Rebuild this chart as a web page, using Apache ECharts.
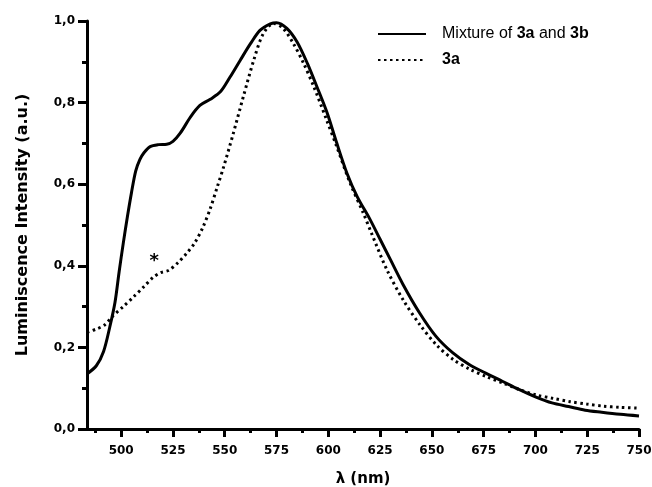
<!DOCTYPE html>
<html>
<head>
<meta charset="utf-8">
<script src="https://cdn.jsdelivr.net/npm/echarts@6/dist/echarts.min.js"></script>
<style>
  html, body { margin: 0; padding: 0; background: #fff; }
  #chart { width: 652px; height: 487px; }
</style>
</head>
<body>
<div id="chart"></div>
<script>
// wavelength (nm) / intensity pairs
const mixtureWl = [483.5, 488, 491.5, 494.5, 497, 499, 501, 503, 505, 507, 509, 511, 514, 518, 522, 525, 528.5, 533.5, 538, 543, 548, 552.5, 557.5, 562.5, 567, 572, 575, 580, 585, 590, 594.5, 599.5, 604, 609, 614, 620, 625, 630, 636, 644, 652, 660, 668, 676, 684, 692, 700, 708, 716, 724, 732, 741, 750];
const mixtureVal = [0.135, 0.155, 0.19, 0.25, 0.31, 0.385, 0.455, 0.52, 0.58, 0.632, 0.66, 0.677, 0.692, 0.697, 0.698, 0.705, 0.725, 0.765, 0.793, 0.808, 0.827, 0.862, 0.904, 0.945, 0.977, 0.993, 0.996, 0.982, 0.948, 0.895, 0.839, 0.774, 0.702, 0.627, 0.569, 0.515, 0.465, 0.415, 0.355, 0.285, 0.227, 0.187, 0.158, 0.137, 0.117, 0.097, 0.079, 0.064, 0.055, 0.046, 0.041, 0.036, 0.032];

const pure3aWl = [483.5, 488, 492, 496, 501, 506, 511, 515.5, 519, 523, 527.5, 531.5, 535.5, 539.5, 543, 546.5, 549.5, 554, 559, 564, 568.5, 573.5, 578, 583, 588, 593, 599, 604, 610.5, 617, 621, 628.3, 636.3, 644.3, 652.4, 660.4, 668.5, 676.5, 684.6, 692.6, 700.7, 708.7, 716.7, 724.8, 732.8, 741, 750];
const pure3aVal = [0.237, 0.245, 0.255, 0.277, 0.3, 0.324, 0.349, 0.372, 0.383, 0.389, 0.408, 0.43, 0.456, 0.495, 0.54, 0.595, 0.643, 0.722, 0.815, 0.904, 0.968, 0.994, 0.983, 0.946, 0.897, 0.839, 0.76, 0.693, 0.603, 0.528, 0.478, 0.39, 0.315, 0.255, 0.205, 0.17, 0.146, 0.128, 0.112, 0.096, 0.083, 0.075, 0.067, 0.061, 0.056, 0.053, 0.051];

const xMajorTicks = [500, 525, 550, 575, 600, 625, 650, 675, 700, 725, 750];
const xMinorTicks = [487.5, 512.5, 537.5, 562.5, 587.5, 612.5, 637.5, 662.5, 687.5, 712.5, 737.5];
const asteriskAt = [516, 0.41];

const seriesNames = ["Mixture of 3a and 3b", "3a"];

const chart = echarts.init(document.getElementById("chart"));

const tickFont = "DejaVu Sans";
const legendFont = "Liberation Sans";

const pairs = (xs, ys) => xs.map((x, i) => [x, ys[i]]);

const axisBlack = { color: "#000", width: 3 };

chart.setOption({
  animation: false,
  backgroundColor: "#fff",
  grid: { left: 87, right: 13, top: 21, bottom: 58, outerBoundsMode: "none" },
  legend: {
    orient: "vertical",
    left: 372,
    top: 21,
    itemWidth: 48,
    itemHeight: 14,
    itemGap: 10,
    data: seriesNames,
    itemStyle: { opacity: 0 },
    formatter: (name) =>
      name === seriesNames[0] ? "Mixture of {b|3a} and {b|3b}" : "{b|3a}",
    textStyle: {
      fontFamily: legendFont,
      fontSize: 16,
      color: "#000",
      padding: [0, 0, 0, 11],
      rich: {
        b: { fontFamily: legendFont, fontSize: 16, fontWeight: "bold", color: "#000" },
      },
    },
  },
  xAxis: [
    {
      type: "value",
      min: 483.5,
      max: 750,
      name: "λ (nm)",
      nameLocation: "middle",
      nameGap: 43,
      nameTextStyle: { fontFamily: tickFont, fontWeight: "bold", fontSize: 15, color: "#000" },
      splitLine: { show: false },
      axisLine: { lineStyle: axisBlack },
      axisTick: { customValues: xMajorTicks, length: 8, lineStyle: axisBlack },
      axisLabel: {
        customValues: xMajorTicks,
        margin: 16,
        fontFamily: tickFont,
        fontWeight: "bold",
        fontSize: 12,
        color: "#000",
      },
    },
    {
      // minor ticks only
      type: "value",
      min: 483.5,
      max: 750,
      position: "bottom",
      splitLine: { show: false },
      axisLine: { show: false },
      axisTick: { customValues: xMinorTicks, length: 4, lineStyle: axisBlack },
      axisLabel: { show: false },
    },
  ],
  yAxis: {
    type: "value",
    min: 0,
    max: 1,
    interval: 0.2,
    name: "Luminiscence Intensity (a.u.)",
    nameLocation: "middle",
    nameGap: 56,
    nameTextStyle: { fontFamily: tickFont, fontWeight: "bold", fontSize: 16, color: "#000" },
    splitLine: { show: false },
    axisLine: { show: true, lineStyle: axisBlack },
    axisTick: { show: true, length: 9, lineStyle: axisBlack },
    minorTick: { show: true, splitNumber: 2, length: 5, lineStyle: axisBlack },
    minorSplitLine: { show: false },
    axisLabel: {
      margin: 12,
      fontFamily: tickFont,
      fontWeight: "bold",
      fontSize: 12,
      color: "#000",
      formatter: (v) => v.toFixed(1).replace(".", ","),
    },
  },
  series: [
    {
      name: seriesNames[0],
      type: "line",
      smooth: 0.3,
      symbol: "none",
      lineStyle: { color: "#000", width: 3 },
      itemStyle: { color: "#000" },
      data: pairs(mixtureWl, mixtureVal),
    },
    {
      name: seriesNames[1],
      type: "line",
      smooth: 0.3,
      symbol: "none",
      lineStyle: { color: "#000", width: 3, type: [2.5, 3.5] },
      itemStyle: { color: "#000" },
      data: pairs(pure3aWl, pure3aVal),
      markPoint: {
        silent: true,
        symbol: "circle",
        symbolSize: 0,
        label: {
          show: true,
          position: "inside",
          formatter: "*",
          fontFamily: tickFont,
          fontWeight: "bold",
          fontSize: 18,
          color: "#000",
        },
        data: [{ coord: asteriskAt }],
      },
    },
  ],
});
</script>
</body>
</html>
